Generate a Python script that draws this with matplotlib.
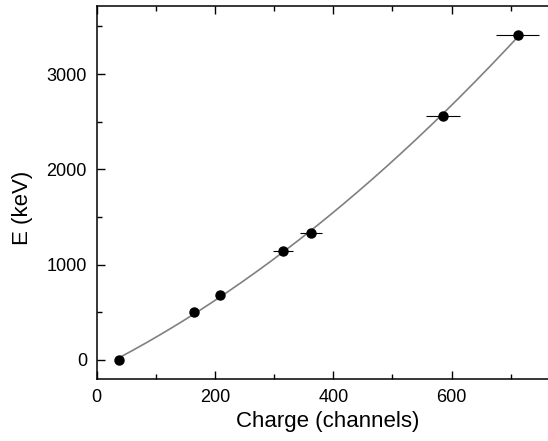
import numpy as np
import matplotlib
matplotlib.use("Agg")
import matplotlib.pyplot as plt
from matplotlib.ticker import MultipleLocator

# Data
charge = [38, 164, 209, 315, 362, 586, 712]
energy = [0, 507, 680, 1141, 1333, 2564, 3408]
charge_err = [2, 4, 4, 17, 19, 29, 36]

plt.rcParams['font.family'] = ['Liberation Sans', 'DejaVu Sans']

fig = plt.figure(figsize=(5.48, 4.41), dpi=100)
ax = fig.add_axes([96.7/548, 1-379/441, (558-96.7)/548, (379-6)/441])

# quadratic calibration fit
coef = np.polyfit(charge, energy, 2)
xf = np.linspace(min(charge), max(charge), 300)
ax.plot(xf, np.polyval(coef, xf), color='#808080', lw=1.2, zorder=2)

ax.errorbar(charge, energy, xerr=charge_err, fmt='o', color='black',
            ms=6.5, elinewidth=0.8, capsize=0, zorder=3)

ax.set_xlim(0, 780)
ax.set_ylim(-200, 3715)
ax.xaxis.set_major_locator(MultipleLocator(200))
ax.xaxis.set_minor_locator(MultipleLocator(100))
ax.yaxis.set_major_locator(MultipleLocator(1000))
ax.yaxis.set_minor_locator(MultipleLocator(500))
ax.tick_params(which='both', direction='in', top=True, right=True,
               width=1.0, labelsize=13, pad=7)
ax.tick_params(which='major', length=6)
ax.tick_params(which='minor', length=3.5)
for s in ax.spines.values():
    s.set_linewidth(1.1)

ax.set_xlabel('Charge (channels)', fontsize=16, labelpad=4)
ax.set_ylabel('E (keV)', fontsize=16)
ax.yaxis.set_label_coords(-0.138, 0.458)

fig.savefig('out.png', dpi=100)
